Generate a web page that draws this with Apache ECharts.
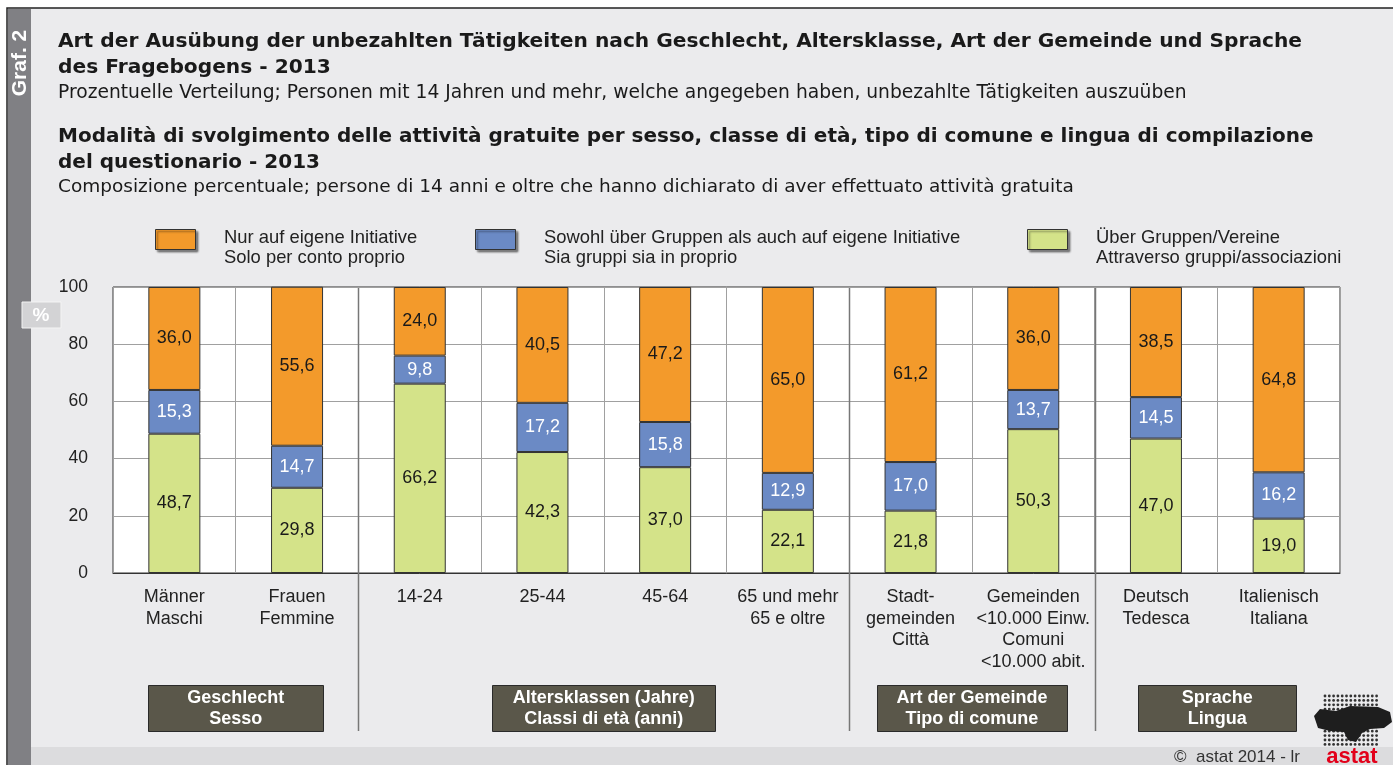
<!DOCTYPE html>
<html>
<head>
<meta charset="utf-8">
<script src="https://cdn.jsdelivr.net/npm/echarts@6/dist/echarts.min.js"></script>
<style>
html, body { margin: 0; padding: 0; background: #fff; }
#chart { width: 1393px; height: 765px; }
</style>
</head>
<body>
<div id="chart"></div>
<script>
// Kategorien / categorie
var categories = [
  'Männer\nMaschi', 'Frauen\nFemmine', '14-24', '25-44', '45-64',
  '65 und mehr\n65 e oltre', 'Stadt-\ngemeinden\nCittà',
  'Gemeinden\n<10.000 Einw.\nComuni\n<10.000 abit.',
  'Deutsch\nTedesca', 'Italienisch\nItaliana'
];
// Über Gruppen/Vereine
var gruppen = [48.7, 29.8, 66.2, 42.3, 37.0, 22.1, 21.8, 50.3, 47.0, 19.0];
// Sowohl über Gruppen als auch auf eigene Initiative
var beide = [15.3, 14.7, 9.8, 17.2, 15.8, 12.9, 17.0, 13.7, 14.5, 16.2];
// Nur auf eigene Initiative
var eigene = [36.0, 55.6, 24.0, 40.5, 47.2, 65.0, 61.2, 36.0, 38.5, 64.8];
var yTicks = [0, 20, 40, 60, 80, 100];
// Gruppen der Kategorien (erste, letzte)
var groupNames = ['Geschlecht\nSesso', 'Altersklassen (Jahre)\nClassi di età (anni)', 'Art der Gemeinde\nTipo di comune', 'Sprache\nLingua'];
var groupRange = [[0, 1], [2, 5], [6, 7], [8, 9]];

var names = [
  'Nur auf eigene Initiative\nSolo per conto proprio',
  'Sowohl über Gruppen als auch auf eigene Initiative\nSia gruppi sia in proprio',
  'Über Gruppen/Vereine\nAttraverso gruppi/associazioni'
];
var colors = ['#f39a2b', '#6b8ac5', '#d4e389'];
var legendLeft = [155, 475, 1027];
var boxWidths = [175, 223, 190, 158];

var chart = echarts.init(document.getElementById('chart'));
var font = '"Liberation Sans", Arial, Helvetica, sans-serif';
var titleFont = '"DejaVu Sans", Verdana, sans-serif';

function fmt(p) { return p.value.toFixed(1).replace('.', ','); }

function barSeries(name, data, color, labelColor) {
  return {
    name: name, type: 'bar', stack: 'all', data: data, barWidth: 52,
    itemStyle: { color: color, borderColor: '#333', borderWidth: 1 },
    label: { show: true, position: 'inside', formatter: fmt, fontSize: 18, color: labelColor },
    emphasis: { disabled: true }
  };
}

var option = {
  backgroundColor: '#fff',
  animation: false,
  textStyle: { fontFamily: font },
  title: [
    { text: 'Art der Ausübung der unbezahlten Tätigkeiten nach Geschlecht, Altersklasse, Art der Gemeinde und Sprache\ndes Fragebogens - 2013',
      left: 58, top: 29, padding: 0,
      textStyle: { fontFamily: titleFont, fontSize: 20.2, fontWeight: 'bold', lineHeight: 26, color: '#1a1a1a' } },
    { text: 'Prozentuelle Verteilung; Personen mit 14 Jahren und mehr, welche angegeben haben, unbezahlte Tätigkeiten auszuüben',
      left: 58, top: 82, padding: 0,
      textStyle: { fontFamily: titleFont, fontSize: 18.7, fontWeight: 'normal', lineHeight: 22, color: '#1a1a1a' } },
    { text: 'Modalità di svolgimento delle attività gratuite per sesso, classe di età, tipo di comune e lingua di compilazione\ndel questionario - 2013',
      left: 58, top: 124, padding: 0,
      textStyle: { fontFamily: titleFont, fontSize: 20, fontWeight: 'bold', lineHeight: 26, color: '#1a1a1a' } },
    { text: 'Composizione percentuale; persone di 14 anni e oltre che hanno dichiarato di aver effettuato attività gratuita',
      left: 58, top: 176, padding: 0,
      textStyle: { fontFamily: titleFont, fontSize: 18.5, fontWeight: 'normal', lineHeight: 22, color: '#1a1a1a' } }
  ],
  grid: { left: 113, right: 53, top: 287, bottom: 192, show: true,
    backgroundColor: '#fff', borderColor: '#333', borderWidth: 1 },
  xAxis: {
    type: 'category', data: categories,
    axisLine: { lineStyle: { color: '#333' } },
    axisTick: { show: false },
    splitLine: { show: true, lineStyle: { color: '#a0a0a0' } },
    axisLabel: { interval: 0, fontSize: 18, lineHeight: 21.7, color: '#222', margin: 13, verticalAlign: 'top' }
  },
  yAxis: {
    type: 'value', min: yTicks[0], max: yTicks[yTicks.length - 1], interval: yTicks[1] - yTicks[0],
    axisLine: { show: false }, axisTick: { show: false },
    splitLine: { lineStyle: { color: '#a0a0a0' } },
    axisLabel: { fontSize: 17.5, color: '#222', margin: 25 }
  },
  series: [
    barSeries(names[2], gruppen, colors[2], '#1a1a1a'),
    barSeries(names[1], beide, colors[1], '#fff'),
    barSeries(names[0], eigene, colors[0], '#1a1a1a')
  ]
};
chart.setOption(option);

// Dekoration: Rahmen, Streifen, Legende, Gruppenkästen, Trennlinien, Logo
var xs = categories.map(function (c, i) { return chart.convertToPixel({ xAxisIndex: 0 }, i); });

var g = [
  { type: 'rect', z: -10, shape: { x: 7, y: 8, width: 1400, height: 780 },
    style: { fill: '#ebebed', stroke: '#222', lineWidth: 1.5 } },
  { type: 'rect', z: -9, shape: { x: 8, y: 9, width: 23, height: 760 }, style: { fill: '#808084' } },
  { type: 'rect', z: -9, shape: { x: 31, y: 747, width: 1400, height: 20 }, style: { fill: '#dcdcde' } },
  { type: 'text', x: 20, y: 63, rotation: Math.PI / 2,
    style: { text: 'Graf. 2', fill: '#fff', font: 'bold 21px ' + font, align: 'center', verticalAlign: 'middle' } },
  { type: 'rect', shape: { x: 22, y: 302, width: 39, height: 26 },
    style: { fill: '#d3d3d5', stroke: '#f4f4f4', lineWidth: 1 } },
  { type: 'text', x: 41, y: 316,
    style: { text: '%', fill: '#fff', font: 'bold 19px ' + font, align: 'center', verticalAlign: 'middle' } },
  { type: 'text', x: 1300, y: 757,
    style: { text: '©  astat 2014 - lr', fill: '#333', font: '17px ' + font, align: 'right', verticalAlign: 'middle' } }
];

// Legende
names.forEach(function (n, i) {
  g.push({ type: 'rect', shape: { x: legendLeft[i] + 0.5, y: 229.5, width: 40, height: 20 },
    style: { fill: colors[i], stroke: '#333', lineWidth: 1,
      shadowColor: 'rgba(0,0,0,0.45)', shadowBlur: 2, shadowOffsetX: 2, shadowOffsetY: 2 } });
  g.push({ type: 'text', x: legendLeft[i] + 69, y: 227.5,
    style: { text: n, fill: '#222', font: '18.4px ' + font, lineHeight: 20, verticalAlign: 'top' } });
});

// Trennlinien zwischen den Gruppen
for (var k = 1; k < groupRange.length; k++) {
  var bx = Math.round((xs[groupRange[k][0]] + xs[groupRange[k][0] - 1]) / 2) + 0.5;
  g.push({ type: 'line', z: 10, shape: { x1: bx, y1: 288, x2: bx, y2: 731 },
    style: { stroke: '#777', lineWidth: 1.5 } });
}

// Gruppenkästen
groupRange.forEach(function (r, k) {
  var cx = (xs[r[0]] + xs[r[1]]) / 2;
  var w = boxWidths[k];
  g.push({ type: 'rect', shape: { x: Math.round(cx - w / 2) + 0.5, y: 685.5, width: w, height: 46 },
    style: { fill: '#5a574a', stroke: '#2a2a2a', lineWidth: 1 } });
  g.push({ type: 'text', x: cx, y: 709,
    style: { text: groupNames[k], fill: '#fff', font: 'bold 18px ' + font, lineHeight: 21,
      align: 'center', verticalAlign: 'middle' } });
});

// astat Logo (vereinfacht)
for (var r = 0; r < 12; r++) {
  for (var c = 0; c < 13; c++) {
    g.push({ type: 'circle', shape: { cx: 1325 + c * 4.3, cy: 696 + r * 4.4, r: 1.4 },
      style: { fill: '#333' } });
  }
}
g.push({ type: 'polygon', shape: { points: [[1314, 716], [1320, 709], [1336, 711], [1350, 706], [1378, 707], [1390, 712],
  [1392, 722], [1384, 728], [1370, 729], [1362, 733], [1356, 742], [1348, 740], [1344, 732], [1330, 731], [1318, 728]] },
  style: { fill: '#1e1e1e' } });
g.push({ type: 'text', x: 1352, y: 757,
  style: { text: 'astat', fill: '#e2001a', font: 'bold 22px ' + font, align: 'center', verticalAlign: 'middle' } });

chart.setOption({ graphic: g });
</script>
</body>
</html>
